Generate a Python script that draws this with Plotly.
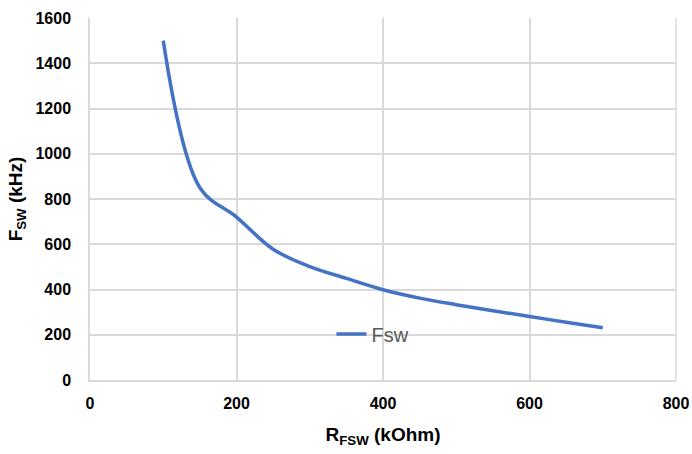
import plotly.graph_objects as go

r_fsw = [100, 150, 200, 250, 300, 350, 400, 450, 500, 550, 600, 650, 700]
f_sw = [1500, 850, 720, 578, 501, 449, 399, 362, 333, 306, 281, 255, 231]

fig = go.Figure()
fig.add_trace(go.Scatter(
    x=r_fsw, y=f_sw, mode="lines", name="Fsw",
    line=dict(color="#4472C4", width=3.5, shape="spline", smoothing=1.0),
))

fam = "Liberation Sans, Arial"
fig.update_layout(
    width=692, height=454,
    margin=dict(l=90, r=16, t=18, b=74),
    paper_bgcolor="white", plot_bgcolor="white",
    showlegend=True,
    legend=dict(x=0.412, y=0.127, xanchor="left", yanchor="middle",
                bgcolor="rgba(0,0,0,0)",
                font=dict(family=fam, size=20, color="#595959")),
    xaxis=dict(range=[0, 800], tickvals=[0, 200, 400, 600, 800], automargin=False,
               showgrid=True, gridcolor="#d9d9d9", gridwidth=1.5,
               zeroline=False, showline=True, linecolor="#d9d9d9", linewidth=1.5,
               tickfont=dict(family=fam, size=16, color="#000000", weight="bold"),
               ticks="", ticklabelstandoff=8,
               title=dict(text="R<sub>FSW</sub> (kOhm)", standoff=17,
                          font=dict(family=fam, size=19, color="#000000", weight="bold"))),
    yaxis=dict(range=[0, 1600], tickvals=[0, 200, 400, 600, 800, 1000, 1200, 1400, 1600],
               automargin=False,
               showgrid=True, gridcolor="#d9d9d9", gridwidth=1.5,
               zeroline=False, showline=True, linecolor="#d9d9d9", linewidth=1.5,
               tickfont=dict(family=fam, size=16, color="#000000", weight="bold"),
               ticks="", ticklabelstandoff=14,
               title=dict(text="F<sub>SW</sub> (kHz)", standoff=8,
                          font=dict(family=fam, size=19, color="#000000", weight="bold"))),
)
fig.add_shape(type="line", xref="paper", yref="paper", x0=1, x1=1, y0=0, y1=1,
              line=dict(color="#d9d9d9", width=1.5), layer="below")
fig.write_html("out.html", config={"displayModeBar": False},
               post_script="document.body.style.margin='0';document.body.style.overflow='hidden';")
